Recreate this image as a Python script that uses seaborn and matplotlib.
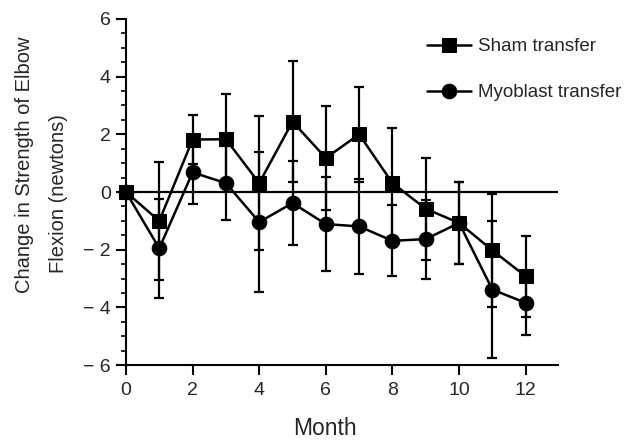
import numpy as np
import pandas as pd
import matplotlib
matplotlib.use('Agg')
import matplotlib.pyplot as plt
from matplotlib.ticker import MultipleLocator, FuncFormatter
import seaborn as sns

months = list(range(13))
sham_mean = [0.0, -1.0, 1.82, 1.83, 0.31, 2.44, 1.18, 2.0, 0.31, -0.58, -1.07, -2.02, -2.92]
sham_err = [0.0, 2.05, 0.85, 1.57, 2.33, 2.1, 1.8, 1.65, 1.9, 1.76, 1.42, 1.95, 1.41]
myo_mean = [0.0, -1.95, 0.68, 0.31, -1.04, -0.38, -1.11, -1.19, -1.69, -1.63, -1.07, -3.38, -3.84]
myo_err = [0.0, 1.72, 1.1, 1.27, 2.42, 1.47, 1.64, 1.64, 1.23, 1.37, 1.42, 2.36, 1.12]

df = pd.DataFrame({
    'Month': months * 2,
    'Change': sham_mean + myo_mean,
    'Group': ['Sham transfer'] * 13 + ['Myoblast transfer'] * 13,
})

sns.set_theme(style='ticks')
plt.rcParams['font.family'] = ['Liberation Sans', 'DejaVu Sans']

fig = plt.figure(figsize=(6.33, 4.40), dpi=100)
ax = fig.add_axes([0.199, 0.17, 0.682, 0.787])

# zero reference line
ax.axhline(0, color='black', lw=1.6, zorder=1)

# error bars
for m, e in [(sham_mean, sham_err), (myo_mean, myo_err)]:
    ax.errorbar(months[1:], m[1:], yerr=e[1:], fmt='none', ecolor='black',
                elinewidth=1.6, capsize=3.5, capthick=1.6, zorder=2)

sns.lineplot(data=df, x='Month', y='Change', style='Group',
             markers={'Sham transfer': 's', 'Myoblast transfer': 'o'},
             dashes=False, color='black', linewidth=1.8, markersize=10.5,
             markeredgecolor='black', ax=ax, zorder=3, clip_on=False)

ax.set_xlim(0, 12.96)
ax.set_ylim(-6, 6)
ax.xaxis.set_major_locator(MultipleLocator(2))
ax.yaxis.set_major_locator(MultipleLocator(2))
ax.yaxis.set_minor_locator(MultipleLocator(0.5))
ax.yaxis.set_major_formatter(FuncFormatter(
    lambda v, p: f'\u2212 {abs(v):.0f}' if v < 0 else f'{v:.0f}'))
ax.tick_params(axis='both', which='major', labelsize=14, length=7, width=1.5,
               color='black')
ax.tick_params(axis='x', which='major', pad=5)
ax.tick_params(axis='y', which='major', pad=4)
ax.tick_params(axis='y', which='minor', length=3.6, width=1.2, color='black')
sns.despine(ax=ax)
for s in ['left', 'bottom']:
    ax.spines[s].set_linewidth(1.5)
    ax.spines[s].set_color('black')

ax.set_xlabel('Month', fontsize=16.5, va='top')
ax.xaxis.set_label_coords(0.46, -0.15)
ax.set_ylabel('')
fig.text(25 / 633, 1 - 165 / 440, 'Change in Strength of Elbow', rotation=90,
         ha='center', va='center', fontsize=14.5)
fig.text(58 / 633, 1 - 194 / 440, 'Flexion (newtons)', rotation=90,
         ha='center', va='center', fontsize=14.5)

leg = ax.legend(loc='upper left', bbox_to_anchor=(0.648, 0.952), bbox_transform=fig.transFigure,
                frameon=False, fontsize=13.5, handlelength=2.35, labelspacing=1.55,
                handletextpad=0.37)
leg.set_title(None)

fig.savefig('out.png', dpi=100)
